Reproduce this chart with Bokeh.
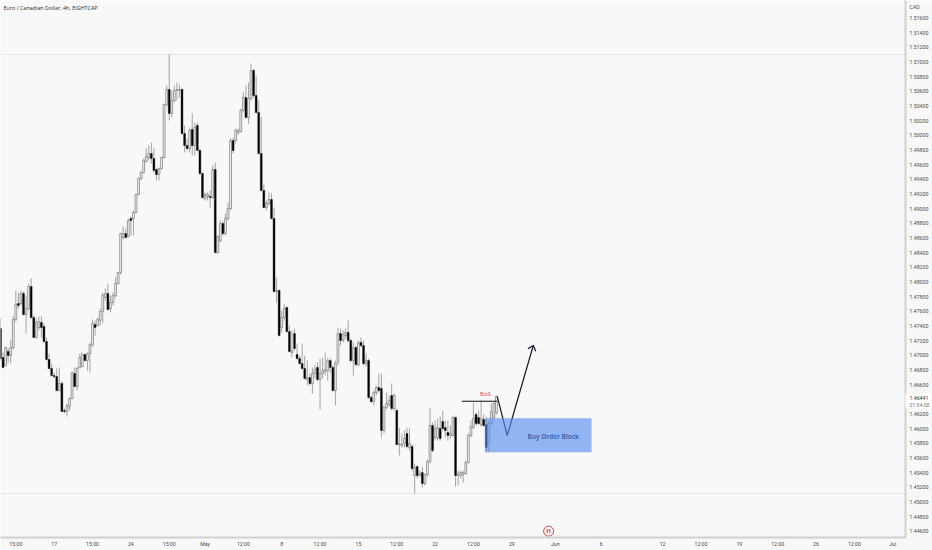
from bokeh.plotting import figure
from bokeh.models import FixedTicker, Span, Label, Range1d, BoxAnnotation
from bokeh.core.properties import value
from bokeh.embed import file_html
from bokeh.resources import INLINE

opens = [1.47365,1.46970,1.46861,1.47052,1.46997,1.47106,1.47488,1.47706,1.47706,1.47843,
1.47556,1.47638,1.47938,1.47515,1.47242,1.47379,1.47447,1.47393,1.47188,1.46943,
1.46820,1.46725,1.46711,1.46520,1.46616,1.46247,1.46234,1.46302,1.46411,1.46752,
1.46575,1.46834,1.46847,1.47011,1.46929,1.47024,1.47133,1.47420,1.47406,1.47475,
1.47597,1.47788,1.47843,1.47638,1.47720,1.47815,1.47979,1.48129,1.48606,1.48661,
1.48620,1.48866,1.48866,1.48947,1.49192,1.49410,1.49492,1.49642,1.49697,1.49751,
1.49683,1.49533,1.49465,1.49547,1.49697,1.50419,1.50624,1.50297,1.50474,1.50610,
1.50610,1.50624,1.50024,1.49860,1.49819,1.50078,1.49860,1.50133,1.49792,1.49478,
1.49138,1.49165,1.49165,1.49151,1.49533,1.48401,1.48565,1.48797,1.48661,1.48866,
1.49002,1.49928,1.49928,1.50037,1.50051,1.50338,1.50515,1.50243,1.50501,1.50883,
1.50542,1.50311,1.49751,1.49247,1.49015,1.49070,1.49124,1.48866,1.47870,1.47884,
1.47379,1.47515,1.47652,1.47324,1.47038,1.47297,1.47011,1.46956,1.46888,1.46820,
1.46670,1.46697,1.46616,1.46752,1.46834,1.46670,1.46752,1.46779,1.46793,1.46929,
1.46834,1.46520,1.46902,1.47297,1.47202,1.47270,1.47311,1.47202,1.46929,1.47106,
1.46875,1.47174,1.47133,1.46888,1.46929,1.46425,1.46370,1.46493,1.46561,1.46548,
1.45975,1.46288,1.46329,1.46452,1.46275,1.46247,1.45784,1.45770,1.45797,1.45934,
1.45743,1.45757,1.45361,1.45484,1.45361,1.45402,1.45252,1.45375,1.45552,1.46043,
1.45879,1.45879,1.46002,1.46097,1.46015,1.45948,1.45907,1.45907,1.46152,1.45361,
1.45361,1.45375,1.45388,1.45538,1.45907,1.46015,1.46193,1.46152,1.46056,1.46125,
1.46056,1.45784,1.46070,1.46152,1.46220]

closes = [1.46956,1.46834,1.47106,1.46997,1.47106,1.47488,1.47693,1.47679,1.47843,1.47556,
1.47638,1.47938,1.47515,1.47242,1.47447,1.47461,1.47379,1.47188,1.46943,1.46820,
1.46725,1.46711,1.46520,1.46616,1.46234,1.46234,1.46316,1.46411,1.46765,1.46575,
1.46820,1.46970,1.47011,1.46929,1.47024,1.47147,1.47434,1.47379,1.47488,1.47597,
1.47815,1.47843,1.47625,1.47720,1.47815,1.47979,1.48129,1.48661,1.48661,1.48606,
1.48838,1.48838,1.48947,1.49192,1.49410,1.49492,1.49656,1.49710,1.49751,1.49683,
1.49519,1.49465,1.49547,1.49697,1.50419,1.50624,1.50297,1.50474,1.50610,1.50624,
1.50624,1.50024,1.49860,1.49819,1.50065,1.49860,1.50106,1.49792,1.49478,1.49151,
1.49192,1.49192,1.49151,1.49533,1.48401,1.48620,1.48797,1.48661,1.48866,1.49002,
1.49928,1.49792,1.50065,1.50065,1.50338,1.50515,1.50243,1.50501,1.50883,1.50542,
1.50311,1.49751,1.49247,1.49015,1.49070,1.49124,1.48866,1.47870,1.47884,1.47270,
1.47515,1.47638,1.47324,1.47052,1.47065,1.47093,1.46956,1.46888,1.46820,1.46684,
1.46697,1.46616,1.46752,1.46806,1.46670,1.46752,1.46793,1.46806,1.46929,1.46834,
1.46520,1.46888,1.47297,1.47202,1.47283,1.47311,1.47202,1.46929,1.47106,1.46875,
1.47174,1.47133,1.46888,1.46929,1.46425,1.46370,1.46493,1.46561,1.46520,1.45975,
1.46288,1.46343,1.46384,1.46275,1.46452,1.45784,1.45797,1.45784,1.45866,1.45757,
1.45797,1.45456,1.45470,1.45361,1.45388,1.45252,1.45375,1.45552,1.46043,1.45702,
1.46002,1.46015,1.45866,1.46002,1.45975,1.45907,1.45934,1.46152,1.45361,1.45388,
1.45402,1.45402,1.45538,1.45907,1.46029,1.46138,1.46070,1.46070,1.46138,1.46043,
1.45743,1.46070,1.46234,1.46343,1.46441]

highs = [1.47502,1.47038,1.47120,1.47093,1.47215,1.47529,1.47884,1.47856,1.47884,1.47870,
1.47815,1.47979,1.48047,1.47543,1.47502,1.47529,1.47529,1.47434,1.47242,1.47024,
1.46888,1.46765,1.46820,1.46834,1.46643,1.46275,1.46343,1.46425,1.46779,1.46834,
1.46847,1.47024,1.47038,1.47024,1.47038,1.47174,1.47488,1.47475,1.47515,1.47638,
1.47856,1.47911,1.47979,1.47815,1.47856,1.48061,1.48129,1.48674,1.48756,1.48729,
1.48866,1.48893,1.48975,1.49206,1.49424,1.49519,1.49683,1.49819,1.49860,1.49901,
1.49819,1.49547,1.49560,1.49710,1.50433,1.50678,1.51101,1.50610,1.50678,1.50719,
1.50692,1.50637,1.50133,1.49956,1.50106,1.50297,1.50174,1.50174,1.49819,1.49492,
1.49220,1.49220,1.49247,1.49587,1.49628,1.48633,1.48838,1.48825,1.48934,1.49084,
1.49956,1.49969,1.50092,1.50092,1.50365,1.50583,1.50678,1.50719,1.50978,1.50910,
1.50815,1.50474,1.50243,1.49329,1.49111,1.49220,1.49206,1.49015,1.48061,1.47897,
1.47611,1.47693,1.47665,1.47406,1.47338,1.47365,1.47161,1.46997,1.47161,1.46997,
1.46929,1.46752,1.46834,1.46861,1.46902,1.46956,1.46970,1.47038,1.46970,1.46956,
1.46861,1.46929,1.47379,1.47365,1.47338,1.47365,1.47475,1.47229,1.47174,1.47133,
1.47202,1.47242,1.47202,1.47024,1.46956,1.46452,1.46520,1.46588,1.46752,1.46752,
1.46316,1.46493,1.46452,1.46616,1.46479,1.46275,1.46015,1.45934,1.45975,1.46015,
1.46002,1.45784,1.45525,1.45497,1.45429,1.45484,1.45388,1.45579,1.46288,1.46084,
1.46111,1.46138,1.46165,1.46247,1.46111,1.46111,1.46043,1.46179,1.46165,1.45429,
1.45429,1.45429,1.45565,1.45934,1.46111,1.46356,1.46220,1.46247,1.46384,1.46193,
1.46165,1.46097,1.46343,1.46370,1.46452]

lows = [1.46929,1.46820,1.46847,1.46902,1.46888,1.47079,1.47461,1.47638,1.47679,1.47543,
1.47297,1.47611,1.47502,1.47242,1.47229,1.47338,1.47242,1.47174,1.46929,1.46806,
1.46711,1.46684,1.46507,1.46507,1.46234,1.46206,1.46165,1.46247,1.46398,1.46561,
1.46520,1.46820,1.46834,1.46915,1.46793,1.46765,1.47120,1.47270,1.47393,1.47406,
1.47434,1.47747,1.47611,1.47584,1.47679,1.47788,1.47965,1.48101,1.48579,1.48592,
1.48606,1.48633,1.48633,1.48934,1.49179,1.49383,1.49478,1.49628,1.49656,1.49615,
1.49492,1.49383,1.49383,1.49533,1.49683,1.50392,1.50201,1.50243,1.50446,1.50474,
1.50515,1.50010,1.49765,1.49792,1.49765,1.49724,1.49724,1.49792,1.49465,1.49138,
1.49111,1.49111,1.49015,1.49138,1.48388,1.48388,1.48538,1.48633,1.48633,1.48838,
1.48975,1.49751,1.49887,1.50010,1.50037,1.50311,1.50229,1.50160,1.50474,1.50515,
1.50297,1.49738,1.49233,1.49002,1.48975,1.49043,1.48852,1.47856,1.47720,1.47256,
1.47311,1.47475,1.47311,1.47038,1.46970,1.47065,1.46943,1.46875,1.46806,1.46670,
1.46588,1.46588,1.46479,1.46684,1.46643,1.46261,1.46684,1.46725,1.46656,1.46765,
1.46507,1.46316,1.46861,1.47133,1.47174,1.47229,1.47174,1.46902,1.46725,1.46847,
1.46847,1.47106,1.46861,1.46847,1.46411,1.46343,1.46316,1.46452,1.46493,1.45879,
1.45934,1.46261,1.46302,1.46247,1.46247,1.45770,1.45634,1.45743,1.45743,1.45729,
1.45702,1.45429,1.45116,1.45320,1.45347,1.45198,1.45225,1.45347,1.45525,1.45675,
1.45838,1.45838,1.45838,1.45975,1.45879,1.45838,1.45866,1.45893,1.45211,1.45225,
1.45320,1.45266,1.45375,1.45525,1.45879,1.46002,1.46043,1.46056,1.46029,1.46029,
1.45675,1.45675,1.46043,1.46125,1.46193]

date_ticks = [6,21,36,51,66,80,95,110,125,140,155,170,185,200,217,235,259,274,289,304,319,334,349]
date_labels = ["15:00","17","15:00","24","15:00","May","12:00","8","12:00","15","12:00","22","12:00","29",
               "Jun","6","12","12:00","19","12:00","26","12:00","Jul"]
price_ticks = [1.446,1.448,1.45,1.452,1.454,1.456,1.458,1.46,1.462,1.466,1.468,1.47,1.472,1.474,1.476,
               1.478,1.48,1.482,1.484,1.486,1.488,1.49,1.492,1.494,1.496,1.498,1.5,1.502,1.504,1.506,
               1.508,1.51,1.512,1.514,1.516]
currency_tick = 1.5175
currency = "CAD"

title_text = "Euro / Canadian Dollar, 4h, EIGHTCAP"
last_price = 1.46441
countdown = "01:54:00"
bos_x, bos_y = [180.4, 194.2], [1.46374, 1.46374]
path_x, path_y = [194.3, 198.2, 208.4], [1.46439, 1.45907, 1.47134]
head_x, head_y = [206.3, 208.4, 209.4], [1.47089, 1.47134, 1.47056]
zone = dict(left=189.5, right=231.2, top=1.46143, bottom=1.45679)

BG = "#f8f8f8"
p = figure(width=932, height=550, frame_width=905, frame_height=537,
           output_backend="svg", toolbar_location=None,
           x_range=Range1d(0, 354), y_range=Range1d(1.445163, 1.518372),
           background_fill_color=BG, border_fill_color=BG,
           min_border_left=0, min_border_top=0, min_border_right=27, min_border_bottom=13,
           y_axis_location="right",
           styles={"position": "absolute", "left": "0px", "top": "0px"})
p.grid.visible = False
p.outline_line_color = None

for a in (p.xaxis[0], p.yaxis[0]):
    a.axis_line_color = "#cfcfcf"
    a.axis_line_width = 2
    a.major_tick_line_color = None
    a.minor_tick_line_color = None
    a.major_tick_in = 0
    a.major_tick_out = 0
    a.major_label_text_color = "#4a4a4a"
    a.major_label_text_font = "Roboto"
    a.major_label_text_font_size = "5.2px"
p.xaxis[0].ticker = FixedTicker(ticks=date_ticks)
p.xaxis[0].major_label_overrides = dict(zip(date_ticks, date_labels))
p.xaxis[0].major_label_standoff = 3
p.yaxis[0].ticker = FixedTicker(ticks=price_ticks + [currency_tick])
overrides = {t: f"{t:.5f}" for t in price_ticks}
overrides[currency_tick] = currency
p.yaxis[0].major_label_overrides = overrides
p.yaxis[0].major_label_standoff = 4

for lvl in (max(highs), min(lows)):
    p.add_layout(Span(location=lvl, dimension="width", line_color="#e6e6e6", line_width=1, level="underlay"))

idx = list(range(len(opens)))
p.segment(idx, highs, idx, lows, line_color="#808080", line_width=0.7)
up = [i for i in idx if closes[i] >= opens[i]]
dn = [i for i in idx if closes[i] < opens[i]]
p.vbar(x=up, width=0.72, top=[closes[i] for i in up], bottom=[opens[i] for i in up],
       fill_color="#f2f2f2", line_color="#7a7a7a", line_width=0.7)
p.vbar(x=dn, width=0.72, top=[opens[i] for i in dn], bottom=[closes[i] for i in dn],
       fill_color="#000000", line_color="#000000", line_width=0.4)

p.add_layout(BoxAnnotation(left=zone["left"], right=zone["right"], top=zone["top"], bottom=zone["bottom"],
                           fill_color="#5b8ff0", fill_alpha=0.65, line_color=None))
p.line(bos_x, bos_y, line_color="#111111", line_width=1)
p.line(path_x, path_y, line_color="#10182c", line_width=1.2)
p.line(head_x, head_y, line_color="#10182c", line_width=1.2)

p.text([189.7], [1.46479], ["BoS"], text_color="#e8325a", text_font=value("Open Sans"), text_font_size="6px",
       text_align="center", text_baseline="middle")
p.text([216.2], [1.45893], ["Buy Order Block"], text_color="#0c1a33", text_font=value("Open Sans"),
       text_font_size="6.4px", text_font_style="bold", text_align="center", text_baseline="middle")

p.scatter([214.4], [1.44603], marker="circle", size=10, fill_color=None, line_color="#e0394a", line_width=1)
p.text([214.4], [1.44603], ["H"], text_color="#e0394a", text_font=value("Open Sans"), text_font_size="6px",
       text_font_style="bold", text_align="center", text_baseline="middle")

p.add_layout(Label(x=3, y=529.5, x_units="screen", y_units="screen", text=title_text, text_color="#2a2a2a",
                   text_font="Open Sans", text_font_size="5.4px", text_baseline="middle"))

# price tag lying over the axis
q = figure(width=26, height=15, output_backend="svg", toolbar_location=None,
           x_range=Range1d(0, 26), y_range=Range1d(0, 15), x_axis_type=None, y_axis_type=None,
           background_fill_color="#ffffff", border_fill_color="#ffffff",
           min_border_left=0, min_border_top=0, min_border_right=0, min_border_bottom=0,
           styles={"position": "absolute", "left": "905px", "top": "393px"})
q.grid.visible = False
q.outline_line_color = None
q.text([4], [11], [f"{last_price:.5f}"], text_color="#333333", text_font=value("Roboto"),
       text_font_size="5.2px", text_baseline="middle")
q.text([4], [4], [countdown], text_color="#777777", text_font=value("Roboto"),
       text_font_size="5.2px", text_baseline="middle")

open("out.html", "w").write(file_html([p, q], INLINE))
